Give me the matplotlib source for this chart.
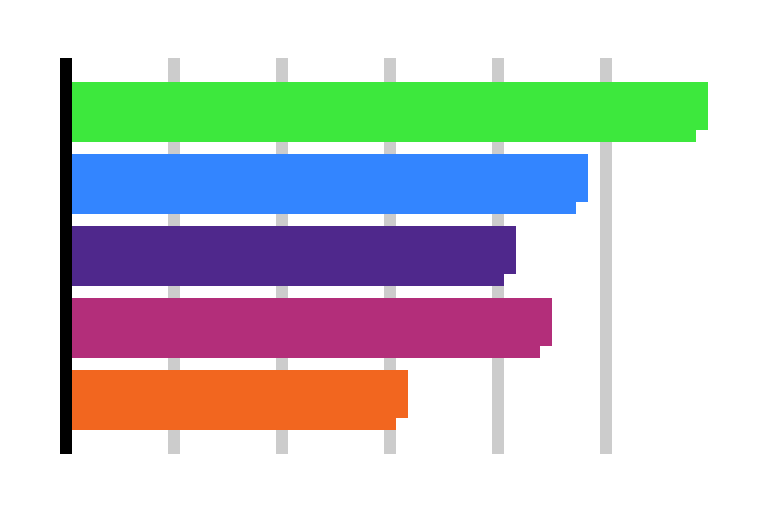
import numpy as np
import matplotlib
matplotlib.use('Agg')
import matplotlib.pyplot as plt

# Data ------------------------------------------------------------------------
categories = ['A', 'B', 'C', 'D', 'E']
front_vals = [5.94, 4.83, 4.17, 4.50, 3.17]   # longer (top) part of each bar
back_vals = [5.83, 4.72, 4.06, 4.39, 3.06]    # shorter (full-height) part
colors = ['#3de83d', '#3385ff', '#4f288c', '#b32e7a', '#f2661f']
grid_ticks = [1, 2, 3, 4, 5]

# Plot ------------------------------------------------------------------------
fig = plt.figure(figsize=(7.68, 5.12), dpi=100)
ax = fig.add_axes([66/768, 58/512, 648/768, 396/512])

pos = np.arange(len(categories))
ax.barh(pos, back_vals, height=60/72, color=colors, zorder=2)
ax.barh(pos - 6/72, front_vals, height=48/72, color=colors, zorder=2)

ax.set_xlim(0, 6)
ax.set_ylim(4.75, -0.75)
ax.set_xticks(grid_ticks)
ax.set_yticks([])
ax.tick_params(axis='x', length=0, labelbottom=False)
ax.grid(axis='x', color='#cccccc', linewidth=8.64, zorder=1)
ax.set_axisbelow(True)

for s in ['top', 'right', 'bottom']:
    ax.spines[s].set_visible(False)
ax.spines['left'].set_linewidth(8.64)
ax.spines['left'].set_color('black')
ax.spines['left'].set_capstyle('butt')
ax.spines['left'].set_zorder(3)

plt.savefig('out.png', dpi=100, facecolor='white')
plt.close('all')
